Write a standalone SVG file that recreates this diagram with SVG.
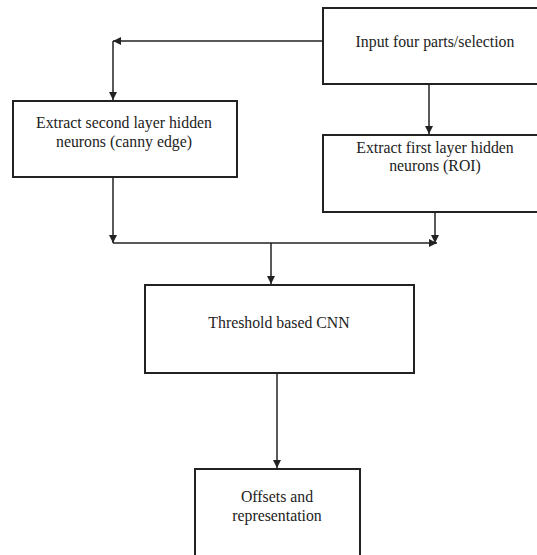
<svg xmlns="http://www.w3.org/2000/svg" width="537" height="555" viewBox="0 0 537 555">
<style>
.box{fill:#fff;stroke:#222;stroke-width:2}
.t{font-family:"Liberation Serif","Times New Roman",serif;font-size:15.8px;fill:#222;text-anchor:middle}
.c{fill:none;stroke:#222;stroke-width:1.5}
</style>
<defs>
<marker id="ah" markerUnits="userSpaceOnUse" markerWidth="9" markerHeight="9" refX="8" refY="4.5" orient="auto">
<path d="M0,0.5 L8,4.5 L0,8.5 Z" fill="#222"/>
</marker>
</defs>
<rect width="537" height="555" fill="#fff"/>
<g id="n-input">
<rect class="box" x="323" y="8" width="230" height="76"/>
<text class="t" x="435" y="47">Input four parts/selection</text>
</g>
<g id="n-second">
<rect class="box" x="13" y="101" width="224" height="76"/>
<text class="t" x="124" y="128">Extract second layer hidden</text>
<text class="t" x="124" y="147">neurons (canny edge)</text>
</g>
<g id="n-first">
<rect class="box" x="323" y="135" width="230" height="77"/>
<text class="t" x="435" y="153">Extract first layer hidden</text>
<text class="t" x="435" y="171">neurons (ROI)</text>
</g>
<g id="n-threshold">
<rect class="box" x="145" y="285" width="269" height="88"/>
<text class="t" x="279" y="328">Threshold based CNN</text>
</g>
<g id="n-offsets">
<rect class="box" x="195" y="469" width="165" height="100"/>
<text class="t" x="277" y="502">Offsets and</text>
<text class="t" x="277" y="521">representation</text>
</g>
<g id="connectors">
<path class="c" d="M323,41 H113" marker-end="url(#ah)"/>
<path class="c" d="M113,41 V100" marker-end="url(#ah)"/>
<path class="c" d="M429,84 V134" marker-end="url(#ah)"/>
<path class="c" d="M113,177 V243" marker-end="url(#ah)"/>
<path class="c" d="M113,243 H437" marker-end="url(#ah)"/>
<path class="c" d="M435,212 V243" marker-end="url(#ah)"/>
<path class="c" d="M271,243 V284" marker-end="url(#ah)"/>
<path class="c" d="M277,373 V468" marker-end="url(#ah)"/>
</g>
</svg>
